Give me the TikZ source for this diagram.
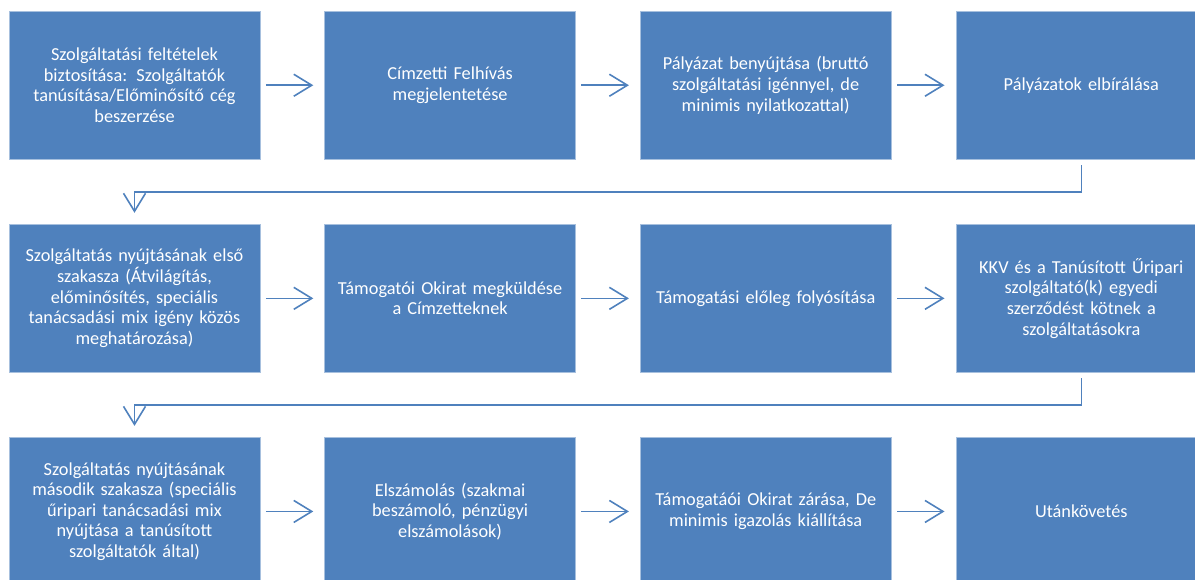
\documentclass[tikz,border=0pt]{standalone}
\usepackage{fontspec}
\setmainfont{Carlito}
\usepackage{tikz}
\usetikzlibrary{arrows.meta,positioning}
\definecolor{boxblue}{HTML}{4F81BD}
\definecolor{boxedge}{HTML}{A7C0DE}

\begin{document}
\begin{tikzpicture}[
  node distance=64pt and 64pt,
  box/.style={fill=boxblue, draw=boxedge, line width=0.6pt, align=center,
    text=white, text width=229pt, inner xsep=11pt, inner ysep=0pt,
    minimum height=148.5pt, font=\fontsize{18.3pt}{20.6pt}\selectfont},
  arr/.style={-{Straight Barb[length=18pt, width=22pt]}, line width=1.6pt,
    draw=boxblue, shorten <=5.5pt, shorten >=11pt}
]
\clip (0,0) rectangle (1195pt,-580pt);
% first row
\node[box] (feltetel) at (134.5pt,-85.25pt) {Szolgáltatási feltételek\\biztosítása: Szolgáltatók\\tanúsítása/Előminősítő cég\\beszerzése};
\node[box, right=of feltetel] (felhivas) {Címzetti Felhívás\\megjelentetése};
\node[box, right=of felhivas] (benyujtas) {Pályázat benyújtása (bruttó\\szolgáltatási igénnyel, de\\minimis nyilatkozattal)};
\node[box, right=of benyujtas] (elbiralas) {Pályázatok elbírálása};
% second row
\node[box, below=of feltetel] (elso) {Szolgáltatás nyújtásának első\\szakasza (Átvilágítás,\\előminősítés, speciális\\tanácsadási mix igény közös\\meghatározása)};
\node[box, right=of elso] (okirat) {Támogatói Okirat megküldése\\a Címzetteknek};
\node[box, right=of okirat] (eloleg) {Támogatási előleg folyósítása};
\node[box, right=of eloleg] (szerzodes) {KKV és a Tanúsított Űripari\\szolgáltató(k) egyedi\\szerződést kötnek a\\szolgáltatásokra};
% third row
\node[box, below=of elso] (masodik) {Szolgáltatás nyújtásának\\második szakasza (speciális\\űripari tanácsadási mix\\nyújtása a tanúsított\\szolgáltatók által)};
\node[box, right=of masodik] (elszamolas) {Elszámolás (szakmai\\beszámoló, pénzügyi\\elszámolások)};
\node[box, right=of elszamolas] (zaras) {Támogatáói Okirat zárása, De\\minimis igazolás kiállítása};
\node[box, right=of zaras] (utankovetes) {Utánkövetés};
\draw[arr] (feltetel) -- (felhivas);
\draw[arr] (felhivas) -- (benyujtas);
\draw[arr] (benyujtas) -- (elbiralas);
\draw[arr] (elbiralas.south) -- ++(0,-32pt) -| (elso.north);
\draw[arr] (elso) -- (okirat);
\draw[arr] (okirat) -- (eloleg);
\draw[arr] (eloleg) -- (szerzodes);
\draw[arr] (szerzodes.south) -- ++(0,-32pt) -| (masodik.north);
\draw[arr] (masodik) -- (elszamolas);
\draw[arr] (elszamolas) -- (zaras);
\draw[arr] (zaras) -- (utankovetes);
\end{tikzpicture}
\end{document}
